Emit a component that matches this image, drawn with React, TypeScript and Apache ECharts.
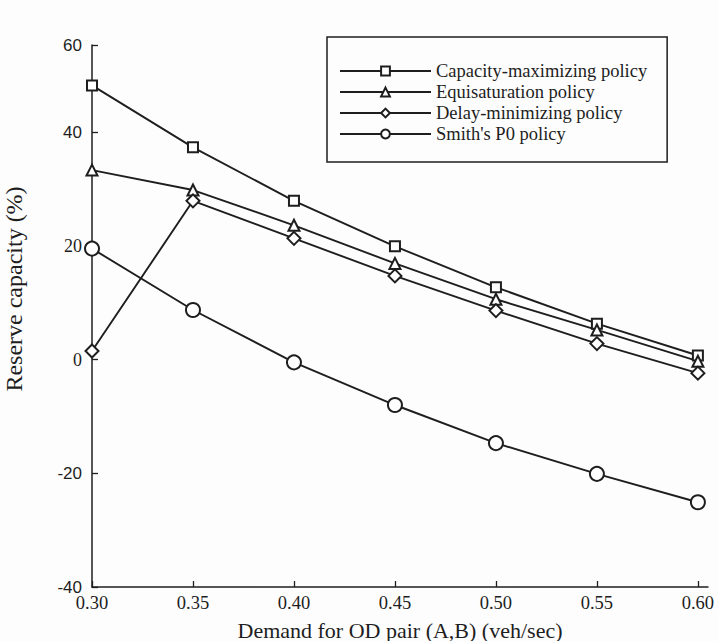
import React, { useEffect, useRef } from "react";
import * as echarts from "echarts";

const demand = [0.3, 0.35, 0.4, 0.45, 0.5, 0.55, 0.6];
const capacityMax = [48.2, 37.3, 27.9, 19.9, 12.7, 6.3, 0.7];
const equisaturation = [33.3, 29.8, 23.6, 16.9, 10.6, 5.2, -0.3];
const delayMin = [1.5, 27.9, 21.3, 14.7, 8.6, 2.8, -2.4];
const smithP0 = [19.5, 8.7, -0.5, -8.0, -14.7, -20.1, -25.1];

const seriesNames = [
  "Capacity-maximizing policy",
  "Equisaturation policy",
  "Delay-minimizing policy",
  "Smith's P0 policy",
];
const xTickValues = [0.3, 0.35, 0.4, 0.45, 0.5, 0.55, 0.6];
const yTickValues = [-40, -20, 0, 20, 40, 55.3];
const yTickLabels = ["-40", "-20", "0", "20", "40", "60"];
const yTickFont = ["s", "s", "r", "r", "s", "s"];

export default function App() {
  const ref = useRef<HTMLDivElement>(null);
  useEffect(() => {
    const chart = echarts.init(ref.current!, null, { renderer: "svg" });
    const ink = "#1e1e1e";
    const serif = "'Liberation Serif', 'Times New Roman', serif";
    const sans = "'Liberation Sans', Arial, sans-serif";
    const mk = (name: string, vals: number[], symbol: string, size: number) => ({
      type: "line",
      name,
      data: demand.map((x, i) => [x, vals[i]]),
      symbol,
      symbolSize: size,
      showAllSymbol: true,
      lineStyle: { color: ink, width: 1.9 },
      itemStyle: { color: ink, borderWidth: 1.3 },
      emphasis: { disabled: true },
    });
    chart.setOption({
      animation: false,
      backgroundColor: "#fdfdfd",
      grid: {
        left: 92,
        right: 11,
        top: 45,
        bottom: 54,
        containLabel: false,
        outerBoundsMode: "none",
      },
      legend: {
        left: 327,
        top: 37,
        orient: "vertical",
        data: seriesNames,
        borderColor: ink,
        borderWidth: 1.5,
        padding: [24, 20, 18, 12],
        itemWidth: 91,
        itemHeight: 11,
        itemGap: 1,
        textStyle: { fontFamily: serif, fontSize: 18.5, color: ink, lineHeight: 20 },
      },
      xAxis: {
        type: "value",
        min: 0.3,
        max: 0.605,
        name: "Demand for OD pair (A,B) (veh/sec)",
        nameLocation: "middle",
        nameGap: 32,
        nameTextStyle: { fontFamily: serif, fontSize: 22, color: ink },
        axisLine: { onZero: false, lineStyle: { color: ink, width: 1.5 } },
        axisTick: { inside: true, length: 6, customValues: xTickValues, lineStyle: { color: ink, width: 1.3 } },
        axisLabel: {
          customValues: xTickValues,
          formatter: (v: number) => v.toFixed(2),
          fontFamily: serif,
          fontSize: 18.5,
          color: ink,
          margin: 6,
        },
        splitLine: { show: false },
      },
      yAxis: {
        type: "value",
        min: -40,
        max: 55.3,
        name: "Reserve capacity (%)",
        nameLocation: "middle",
        nameGap: 66,
        nameRotate: 90,
        nameTextStyle: { fontFamily: serif, fontSize: 24, color: ink, padding: [0, 0, 0, 54] },
        axisLine: { lineStyle: { color: ink, width: 1.5 } },
        axisTick: { inside: true, length: 6, customValues: yTickValues, lineStyle: { color: ink, width: 1.3 } },
        axisLabel: {
          customValues: yTickValues,
          margin: 10,
          formatter: (v: number) => {
            let idx = 0;
            let best = Infinity;
            yTickValues.forEach((t, i) => {
              if (Math.abs(t - v) < best) {
                best = Math.abs(t - v);
                idx = i;
              }
            });
            return `{${yTickFont[idx]}|${yTickLabels[idx]}}`;
          },
          rich: {
            s: { fontFamily: sans, fontSize: 17, color: ink },
            r: { fontFamily: serif, fontSize: 18, color: ink },
          },
        },
        splitLine: { show: false },
      },
      series: [
        mk(seriesNames[0], capacityMax, "emptyRect", 10),
        mk(seriesNames[1], equisaturation, "emptyTriangle", 11),
        mk(seriesNames[2], delayMin, "emptyDiamond", 13),
        mk(seriesNames[3], smithP0, "emptyCircle", 14),
      ],
    });
    return () => chart.dispose();
  }, []);
  return (
    <div
      ref={ref}
      style={{ position: "fixed", left: 0, top: 0, width: 719, height: 641 }}
    />
  );
}
